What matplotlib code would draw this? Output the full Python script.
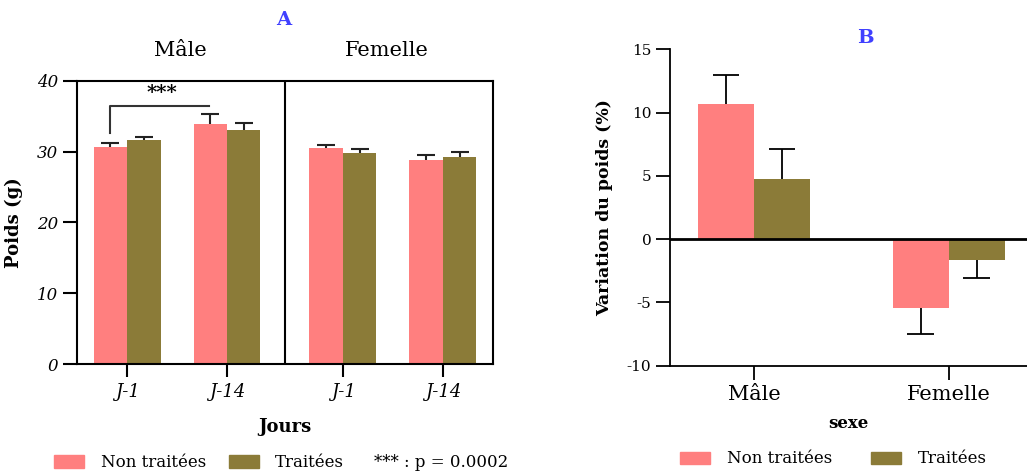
import matplotlib.pyplot as plt
import numpy as np

plt.rcParams['font.family'] = ['DejaVu Serif']
plt.rcParams['axes.unicode_minus'] = False

# Panel A : poids (g)
jours = ['J-1', 'J-14', 'J-1', 'J-14']
poids_non = [30.7, 33.9, 30.5, 28.8]
err_non = [0.6, 1.4, 0.5, 0.7]
poids_trt = [31.7, 33.1, 29.8, 29.2]
err_trt = [0.4, 0.9, 0.6, 0.8]

# Panel B : variation du poids (%)
sexe = ['Mâle', 'Femelle']
var_non = [10.7, -5.45]
var_err_non = [2.3, 2.05]
var_trt = [4.75, -1.65]
var_err_trt = [2.4, 1.45]

c_non = '#FF7F7F'
c_trt = '#8B7B38'
blue = '#4040FF'


def one_sided_err(ax, x, y, err, cap, color, lw):
    # error bar drawn only away from zero, like the original figure
    y = np.asarray(y)
    end = y + np.sign(y) * np.asarray(err)
    ax.vlines(x, y, end, color=color, lw=lw, zorder=3)
    ax.hlines(end, np.asarray(x) - cap / 2, np.asarray(x) + cap / 2,
              color=color, lw=lw, zorder=3)


fig = plt.figure(figsize=(10.27, 4.73), dpi=100)

# ---- A
axA = fig.add_axes([0.075, 0.2304, 0.405, 0.5984])
xA = np.array([0, 1, 2.16, 3.16])
w = 0.335
axA.bar(xA - w / 2, poids_non, w, color=c_non, zorder=2)
axA.bar(xA + w / 2, poids_trt, w, color=c_trt, zorder=2)
one_sided_err(axA, xA - w / 2, poids_non, err_non, 0.18, '#222222', 1.5)
one_sided_err(axA, xA + w / 2, poids_trt, err_trt, 0.18, '#222222', 1.5)
axA.set_xlim(-0.5, 3.66)
axA.set_ylim(0, 40)
axA.axvline(1.58, color='black', lw=1.5)
for s in axA.spines.values():
    s.set_linewidth(1.5)
axA.set_xticks(xA)
axA.set_xticklabels(jours, style='italic', fontsize=13)
axA.set_yticks([0, 10, 20, 30, 40])
axA.set_yticklabels(['0', '10', '20', '30', '40'], style='italic', fontsize=12)
axA.tick_params(axis='y', length=10, width=1.5)
axA.tick_params(axis='x', length=9, width=1.5, pad=5)
axA.set_ylabel('Poids (g)', fontsize=13, fontweight='bold', labelpad=10)
axA.set_xlabel('Jours', fontsize=13, fontweight='bold', labelpad=12)
# significance bracket
x1 = xA[0] - w / 2
x2 = xA[1] - 0.18
axA.plot([x1, x1, x2], [32.7, 36.4, 36.4], color='#333333', lw=1.5)
axA.text((x1 + x2) / 2 + 0.02, 37.0, '***', ha='center', va='bottom',
         fontsize=14, fontweight='bold')
axA.text(0.535, 43.0, 'Mâle', ha='center', va='bottom', fontsize=15)
axA.text(2.6, 43.0, 'Femelle', ha='center', va='bottom', fontsize=15)
fig.text(0.2765, 0.957, 'A', color=blue, fontsize=14, fontweight='bold',
         ha='center', va='center')

# legend A
fig.patches.append(plt.Rectangle((54 / 1027, 1 - 468 / 473), 30 / 1027, 13 / 473,
                                 transform=fig.transFigure, color=c_non))
fig.text(101 / 1027, 1 - 462 / 473, 'Non traitées', fontsize=12, va='center')
fig.patches.append(plt.Rectangle((229 / 1027, 1 - 468 / 473), 30 / 1027, 13 / 473,
                                 transform=fig.transFigure, color=c_trt))
fig.text(275 / 1027, 1 - 462 / 473, 'Traitées', fontsize=12, va='center')
fig.text(374 / 1027, 1 - 462 / 473, '*** : p = 0.0002', fontsize=12, va='center')

# ---- B
axB = fig.add_axes([0.6524, 0.2268, 0.3476, 0.669])
xB = np.arange(len(sexe))
wb = 0.288
axB.bar(xB - wb / 2, var_non, wb, color=c_non, zorder=2)
axB.bar(xB + wb / 2, var_trt, wb, color=c_trt, zorder=2)
one_sided_err(axB, xB - wb / 2, var_non, var_err_non, 0.137, 'black', 1.3)
one_sided_err(axB, xB + wb / 2, var_trt, var_err_trt, 0.137, 'black', 1.3)
axB.axhline(0, color='black', lw=2, zorder=4)
axB.set_xlim(-0.431, 1.402)
axB.set_ylim(-10, 15)
axB.spines['top'].set_visible(False)
axB.spines['right'].set_visible(False)
axB.spines['left'].set_linewidth(1.3)
axB.spines['bottom'].set_linewidth(1.3)
axB.set_yticks([-10, -5, 0, 5, 10, 15])
axB.tick_params(axis='y', length=10, width=1.3, labelsize=11)
axB.tick_params(axis='x', length=10, width=1.3, labelsize=15, pad=4)
axB.set_xticks(xB)
axB.set_xticklabels(sexe)
axB.set_ylabel('Variation du poids (%)', fontsize=12.5, fontweight='bold', labelpad=10)
axB.set_xlabel('sexe', fontsize=12, fontweight='bold', labelpad=8)
fig.text(865 / 1027, 1 - 38 / 473, 'B', color=blue, fontsize=14, fontweight='bold',
         ha='center', va='center')

# legend B
fig.patches.append(plt.Rectangle((680 / 1027, 1 - 464 / 473), 30 / 1027, 12 / 473,
                                 transform=fig.transFigure, color=c_non))
fig.text(727 / 1027, 1 - 458 / 473, 'Non traitées', fontsize=12, va='center')
fig.patches.append(plt.Rectangle((871 / 1027, 1 - 464 / 473), 30 / 1027, 12 / 473,
                                 transform=fig.transFigure, color=c_trt))
fig.text(918 / 1027, 1 - 458 / 473, 'Traitées', fontsize=12, va='center')

fig.savefig('out.png', dpi=100)
